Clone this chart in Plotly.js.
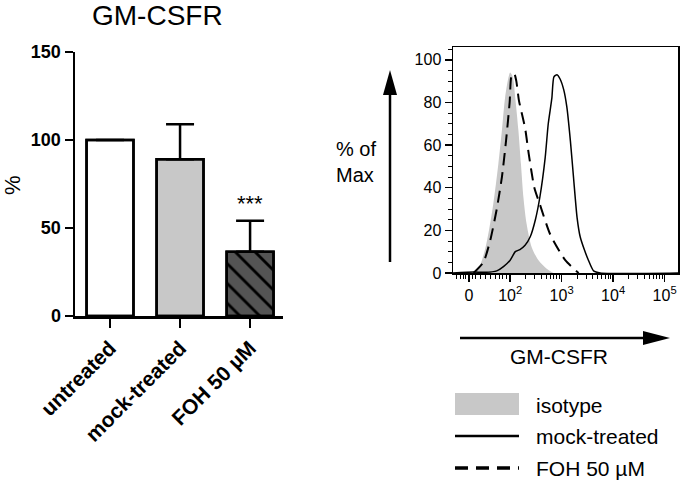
<!DOCTYPE html>
<html>
<head>
<meta charset="utf-8">
<script src="https://cdn.plot.ly/plotly-3.0.1.min.js"></script>
<style>
  body { margin: 0; background: #fff; }
  #chart { width: 680px; height: 481px; }
</style>
</head>
<body>
<div id="chart"></div>
<script>
// bar chart: GM-CSFR expression, % of untreated
var groups = ['untreated', 'mock-treated', 'FOH 50 µM'];
var pctValues = [100, 89, 36.5];
var pctErrors = [0, 20, 17.6];
var sigLabel = '***';

// histogram overlay (x in display decades: 0 ~ 1.2, 10^2 = 2, 10^3 = 3 ...)
var seriesNames = ['isotype', 'mock-treated', 'FOH 50 µM'];
var isoX = [1.29, 1.42, 1.54, 1.67, 1.77, 1.84, 1.90, 1.97, 2.00, 2.05, 2.10, 2.16, 2.21, 2.26, 2.32, 2.42, 2.55, 2.71, 2.84];
var isoY = [0, 4, 14, 32, 51, 67, 82, 92, 94, 92, 82, 67, 51, 35, 23, 12, 6, 2, 0];
var mockX = [0.89, 1.29, 1.50, 1.74, 1.87, 2.00, 2.10, 2.19, 2.29, 2.39, 2.49, 2.58, 2.68, 2.74, 2.81, 2.85, 2.91, 2.97, 3.04, 3.10, 3.17, 3.23, 3.30, 3.36, 3.44, 3.52, 3.62, 3.75, 5.26];
var mockY = [0, 0.5, 0.3, 1, 3, 6, 10, 11, 13, 17, 25, 36, 54, 70, 82, 92, 93, 91, 86, 78, 62, 45, 26, 17, 11, 6, 1, 0, 0];
var fohX = [1.29, 1.48, 1.61, 1.74, 1.84, 1.92, 1.99, 2.03, 2.08, 2.12, 2.17, 2.29, 2.36, 2.47, 2.58, 2.78, 3.07, 3.33];
var fohY = [0, 5, 15, 30, 45, 62, 80, 93, 93.5, 90, 81, 68, 56, 40, 32, 18, 6, 0];
var histTickVals = [1.2, 2, 3, 4, 5];
var histTickText = ['0', '10<sup>2</sup>', '10<sup>3</sup>', '10<sup>4</sup>', '10<sup>5</sup>'];

var W = 680, H = 481;
function px(x) { return x / W; }
function py(y) { return 1 - y / H; }

var FONT = "'Liberation Sans', Arial, sans-serif";

// minor ticks of the logicle-like axis
var minorVals = [0.95, 1.03, 1.09, 1.14, 1.26, 1.33, 1.42, 1.52, 1.62, 1.71, 1.79, 1.86, 1.93];
for (var k = 2; k <= 4; k++) {
    for (var m = 2; m <= 9; m++) {
        minorVals.push(k + Math.log10(m));
    }
}

// solid bars with error bars
var barTrace = {
    type: 'bar',
    x: groups,
    y: pctValues,
    width: 0.67,
    xaxis: 'x',
    yaxis: 'y',
    marker: {
        color: ['#ffffff', '#c8c8c8', '#545454'],
        line: {color: '#000', width: 2.5}
    },
    error_y: {
        type: 'data',
        symmetric: false,
        array: pctErrors,
        arrayminus: [0, 0, 0],
        color: '#000',
        thickness: 2.5,
        width: 14
    }
};
// hatch layer on top of the same bars
var hatchTrace = {
    type: 'bar',
    x: groups,
    y: pctValues,
    width: 0.67,
    xaxis: 'x',
    yaxis: 'y',
    marker: {
        color: 'rgba(0,0,0,0)',
        line: {color: '#000', width: 2.5},
        pattern: {
            shape: ['', '', '\\'],
            fillmode: 'overlay',
            fgcolor: '#000',
            fgopacity: 1,
            size: 14,
            solidity: 0.2
        }
    }
};

var isoTrace = {
    x: isoX, y: isoY, xaxis: 'x2', yaxis: 'y2',
    mode: 'lines', fill: 'tozeroy', fillcolor: '#c8c8c8',
    line: {width: 0, shape: 'spline', smoothing: 0.8},
    name: seriesNames[0]
};
var fohTrace = {
    x: fohX, y: fohY, xaxis: 'x2', yaxis: 'y2',
    mode: 'lines',
    line: {color: '#000', width: 2, dash: '12px,7px', shape: 'spline', smoothing: 0.6},
    name: seriesNames[2]
};
var mockTrace = {
    x: mockX, y: mockY, xaxis: 'x2', yaxis: 'y2',
    mode: 'lines',
    line: {color: '#000', width: 1.5, shape: 'spline', smoothing: 0.6},
    name: seriesNames[1]
};

var shapes = [
    // vertical arrow
    {type: 'line', xref: 'paper', yref: 'paper', x0: px(390), x1: px(390), y0: py(262), y1: py(92),
     line: {color: '#000', width: 2.5}},
    {type: 'path', xref: 'paper', yref: 'paper',
     path: 'M ' + px(383) + ' ' + py(95) + ' L ' + px(390) + ' ' + py(70) + ' L ' + px(397) + ' ' + py(95) + ' Z',
     fillcolor: '#000', line: {width: 0}},
    // horizontal arrow
    {type: 'line', xref: 'paper', yref: 'paper', x0: px(460), x1: px(648), y0: py(338), y1: py(338),
     line: {color: '#000', width: 2.5}},
    {type: 'path', xref: 'paper', yref: 'paper',
     path: 'M ' + px(643) + ' ' + py(331) + ' L ' + px(670) + ' ' + py(338) + ' L ' + px(643) + ' ' + py(345) + ' Z',
     fillcolor: '#000', line: {width: 0}},
    // legend swatches
    {type: 'rect', xref: 'paper', yref: 'paper', x0: px(455), x1: px(519), y0: py(415), y1: py(393),
     fillcolor: '#c8c8c8', line: {width: 0}},
    {type: 'line', xref: 'paper', yref: 'paper', x0: px(455), x1: px(519), y0: py(436), y1: py(436),
     line: {color: '#000', width: 2.5}},
    {type: 'line', xref: 'paper', yref: 'paper', x0: px(455), x1: px(519), y0: py(468), y1: py(468),
     line: {color: '#000', width: 3.5, dash: '13px,8px'}}
];

var annotations = [
    {text: 'GM-CSFR', xref: 'paper', yref: 'paper', x: px(157), y: py(15), showarrow: false,
     xanchor: 'center', yanchor: 'middle', font: {family: FONT, size: 28, color: '#000'}},
    {text: '%', xref: 'paper', yref: 'paper', x: px(13), y: py(185), showarrow: false, textangle: -90,
     xanchor: 'center', yanchor: 'middle', font: {family: FONT, size: 22, color: '#000'}},
    {text: sigLabel, xref: 'x', yref: 'y', x: groups[2], y: pctValues[2] + pctErrors[2] + 10, showarrow: false,
     xanchor: 'center', yanchor: 'middle', font: {family: FONT, size: 22, color: '#000'}},
    {text: '% of<br>Max', xref: 'paper', yref: 'paper', x: px(334), y: py(162), showarrow: false,
     xanchor: 'left', yanchor: 'middle', align: 'left', font: {family: FONT, size: 20, color: '#000'}},
    {text: 'GM-CSFR', xref: 'paper', yref: 'paper', x: px(559), y: py(356), showarrow: false,
     xanchor: 'center', yanchor: 'middle', font: {family: FONT, size: 21, color: '#000'}}
];
for (var i = 0; i < seriesNames.length; i++) {
    annotations.push({
        text: seriesNames[i], xref: 'paper', yref: 'paper', x: px(534), y: py([405, 436, 468][i]),
        showarrow: false, xanchor: 'left', yanchor: 'middle',
        font: {family: FONT, size: 21, color: '#000'}
    });
}

var layout = {
    width: W,
    height: H,
    margin: {l: 0, r: 0, t: 0, b: 0},
    paper_bgcolor: '#fff',
    plot_bgcolor: 'rgba(0,0,0,0)',
    showlegend: false,
    barmode: 'overlay',
    font: {family: FONT, color: '#000'},
    xaxis: {
        domain: [px(75), px(283)],
        anchor: 'y',
        type: 'category',
        range: [-0.5, 2.47],
        showline: true, linecolor: '#000', linewidth: 2.5,
        ticks: 'outside', ticklen: 9, tickwidth: 2.5, tickcolor: '#000',
        tickangle: -45,
        tickfont: {family: FONT, size: 21, weight: 'bold', color: '#000'},
        showgrid: false, zeroline: false, fixedrange: true
    },
    yaxis: {
        domain: [py(316), py(52)],
        anchor: 'x',
        range: [0, 150],
        tickvals: [0, 50, 100, 150],
        showline: true, linecolor: '#000', linewidth: 2.5,
        ticks: 'outside', ticklen: 8, tickwidth: 2.5, tickcolor: '#000',
        tickfont: {family: FONT, size: 18, weight: 'bold', color: '#000'},
        showgrid: false, zeroline: false, fixedrange: true
    },
    xaxis2: {
        domain: [px(453), px(678)],
        anchor: 'y2',
        range: [0.89, 5.26],
        tickmode: 'array',
        tickvals: histTickVals,
        ticktext: histTickText,
        showline: true, mirror: true, linecolor: '#000', linewidth: 1.5,
        ticks: 'outside', ticklen: 7, tickwidth: 1.5, tickcolor: '#000',
        minor: {tickmode: 'array', tickvals: minorVals, ticks: 'outside', ticklen: 4, tickwidth: 1, tickcolor: '#000'},
        tickfont: {family: FONT, size: 16, color: '#000'},
        showgrid: false, zeroline: false, fixedrange: true
    },
    yaxis2: {
        domain: [py(273), py(47)],
        anchor: 'x2',
        range: [0, 106],
        tickvals: [0, 20, 40, 60, 80, 100],
        showline: true, mirror: true, linecolor: '#000', linewidth: 1.5,
        ticks: 'outside', ticklen: 7, tickwidth: 1.5, tickcolor: '#000',
        minor: {dtick: 5, ticks: 'outside', ticklen: 4, tickwidth: 1, tickcolor: '#000'},
        tickfont: {family: FONT, size: 16, color: '#000'},
        showgrid: false, zeroline: false, fixedrange: true
    },
    shapes: shapes,
    annotations: annotations
};

Plotly.newPlot('chart', [barTrace, hatchTrace, isoTrace, fohTrace, mockTrace], layout, {displayModeBar: false, staticPlot: true});
</script>
</body>
</html>
